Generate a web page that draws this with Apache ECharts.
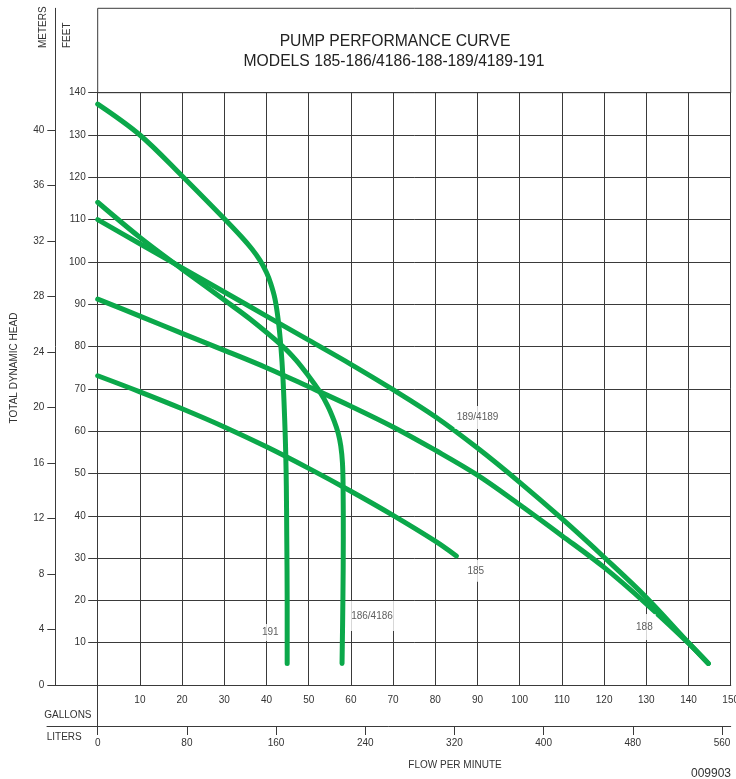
<!DOCTYPE html>
<html><head><meta charset="utf-8">
<script src="https://cdn.jsdelivr.net/npm/echarts@6/dist/echarts.min.js"></script>
<style>html,body{margin:0;padding:0;background:#fff}#c{width:736px;height:779px}</style>
</head><body><div id="c"></div>
<script>
// ---- data (gallons per minute, feet of head) ----
const gallonTicks = [10,20,30,40,50,60,70,80,90,100,110,120,130,140,150];
const feetTicks = [10,20,30,40,50,60,70,80,90,100,110,120,130,140];
const meterTicks = [0,4,8,12,16,20,24,28,32,36,40];
const literTicks = [0,80,160,240,320,400,480,560];

const curve191 = [[0,137.3],[10,130],[20,120.3],[30,110.2],[34,106],[36.5,103.1],[38.5,100.3],[40,97.5],[41,94.9],[42,91.3],[42.8,86.1],[43.4,80.1],[43.9,72.6],[44.3,63],[44.55,55],[44.7,47],[44.8,35],[44.9,20],[44.9,5.1]];
const curve186 = [[0,114.1],[10,105.8],[20,98.3],[30,91],[36.1,86.5],[43.9,80],[47,76.8],[50,73],[52.5,69.5],[54.5,66],[56,62.5],[57,59.5],[57.6,56.5],[58,52.5],[58.15,47],[58.2,35],[58.1,20],[57.9,5.1]];
const curve189 = [[0,110],[10,104.3],[20,98.6],[30,92.9],[40,87.2],[50,81.5],[60,75.8],[70,69.8],[80,63.4],[90,56],[100,47.9],[110,39.3],[120,30.2],[130,20.7],[140,10],[144.7,5.1]];
const curve188 = [[0,91.2],[10,87.2],[20,83.1],[30,79.1],[40,75],[50,70.5],[60,65.9],[70,61],[80,55.5],[90,49.6],[100,42.6],[110,35.3],[120,27.8],[130,19.2],[140,9.9],[144.7,5.1]];
const curve185 = [[0,73.1],[10,69.3],[20,65.3],[30,61],[40,56.3],[50,51.2],[60,45.8],[70,40.1],[80,34],[85,30.5]];
const curveLabels = [[40.9,12.4,'191'],[65,16.3,'186/4186'],[90,63.2,'189/4189'],[89.6,27,'185'],[129.55,13.7,'188']];

// ---- chart ----
const ink = '#333', gridC = '#3a3a3a', green = '#0ba84a';
const font = 'Liberation Sans, Arial, sans-serif';
const L = 97.7, R = 5.3, T = 92.7, B = 94;
const labelPad = {'191':[3,2,4,2],'186/4186':[7,2,13,2],'189/4189':[5,2,8,2],'185':[7,3,5,3],'188':[6,3,10,3]};

const chart = echarts.init(document.getElementById('c'));
const lineSeries = (data) => ({
  type:'line', xAxisIndex:0, yAxisIndex:0, data, symbol:'none', showSymbol:false,
  smooth:0.35, lineStyle:{color:green, width:5, cap:'round', join:'round'}, silent:true, animation:false
});
const hiddenAxis = (gi) => ({gridIndex:gi, type:'value', show:false, min:0, max:1});
const frameAxis = (gi) => ({gridIndex:gi, type:'value', min:0, max:1, axisLine:{show:true, lineStyle:{color:gridC,width:1}}, axisTick:{show:false}, axisLabel:{show:false}, splitLine:{show:false}});
const G = (o) => Object.assign({outerBoundsMode:'none', containLabel:false}, o);

chart.setOption({
  animation:false,
  textStyle:{fontFamily:font},
  grid:[
    G({left:L, right:R, top:T, bottom:B}),
    G({left:L, right:R, top:8.3, height:T-8.3, show:true, borderColor:gridC, borderWidth:1, backgroundColor:'transparent'}),
    G({left:55.3, right:R, top:8.3, bottom:B}),
    G({left:47, right:R, top:700, bottom:53}),
    G({left:L, width:10, top:779-B, bottom:46})
  ],
  xAxis:[
    {gridIndex:0, type:'value', min:0, max:150, interval:10,
     axisLine:{show:true, lineStyle:{color:gridC,width:1}}, axisTick:{show:false},
     axisLabel:{formatter:v=>v===0?'':String(v), margin:10, fontSize:10, color:ink, showMaxLabel:true},
     splitLine:{show:true, lineStyle:{color:gridC,width:1}}},
    {gridIndex:0, type:'value', min:0, max:150*3.78541, position:'bottom', offset:41,
     axisLine:{show:false}, axisTick:{show:true, customValues:literTicks, length:9, lineStyle:{color:gridC,width:1}},
     axisLabel:{customValues:literTicks, margin:12, fontSize:10, color:ink}, splitLine:{show:false}},
    hiddenAxis(1),
    frameAxis(2),
    frameAxis(3),
    hiddenAxis(4)
  ],
  yAxis:[
    {gridIndex:0, type:'value', min:0, max:140, interval:10,
     axisLine:{show:true, lineStyle:{color:gridC,width:1}},
     axisTick:{show:true, length:9.5, lineStyle:{color:gridC,width:1}},
     axisLabel:{formatter:v=>v===0?'':String(v), margin:12, fontSize:10, color:ink},
     splitLine:{show:true, lineStyle:{color:gridC,width:1}}},
    hiddenAxis(1),
    {gridIndex:2, type:'value', min:0, max:160/3.28084,
     axisLine:{show:true, lineStyle:{color:gridC,width:1}},
     axisTick:{show:true, customValues:meterTicks, length:8, lineStyle:{color:gridC,width:1}},
     axisLabel:{customValues:meterTicks, margin:11, fontSize:10, color:ink}, splitLine:{show:false}},
    hiddenAxis(3),
    {gridIndex:4, type:'value', min:0, max:1, axisLine:{show:true, lineStyle:{color:gridC,width:1}},
     axisTick:{show:false}, axisLabel:{show:false}, splitLine:{show:false}}
  ],
  series:[
    lineSeries(curve191), lineSeries(curve186), lineSeries(curve189), lineSeries(curve188), lineSeries(curve185),
    {type:'scatter', xAxisIndex:0, yAxisIndex:0, symbolSize:1, itemStyle:{color:'rgba(0,0,0,0)'}, silent:true, z:3,
     data:curveLabels.map(d=>({value:[d[0],d[1]], name:d[2], label:{padding:labelPad[d[2]]}})),
     label:{show:true, position:'inside', formatter:p=>p.name, fontSize:10, color:ink, backgroundColor:'#fff', fontFamily:font}}
  ],
  graphic:[
    {type:'text', x:395, y:41.7, style:{text:'PUMP PERFORMANCE CURVE', font:'15.7px '+font, fill:'#222', textAlign:'center', textVerticalAlign:'middle', align:'center', verticalAlign:'middle'}},
    {type:'text', x:394, y:61.7, style:{text:'MODELS 185-186/4186-188-189/4189-191', font:'15.7px '+font, fill:'#222', textAlign:'center', textVerticalAlign:'middle', align:'center', verticalAlign:'middle'}},
    {type:'text', x:43, y:48, rotation:Math.PI/2, style:{text:'METERS', font:'10px '+font, fill:ink, textAlign:'left', textVerticalAlign:'middle', align:'left', verticalAlign:'middle'}},
    {type:'text', x:67, y:48, rotation:Math.PI/2, style:{text:'FEET', font:'10px '+font, fill:ink, textAlign:'left', textVerticalAlign:'middle', align:'left', verticalAlign:'middle'}},
    {type:'text', x:14, y:368, rotation:Math.PI/2, style:{text:'TOTAL DYNAMIC HEAD', font:'10px '+font, fill:ink, textAlign:'center', textVerticalAlign:'middle', align:'center', verticalAlign:'middle'}},
    {type:'text', x:44.3, y:715, style:{text:'GALLONS', font:'10px '+font, fill:ink, textAlign:'left', textVerticalAlign:'middle', align:'left', verticalAlign:'middle'}},
    {type:'text', x:46.7, y:737, style:{text:'LITERS', font:'10px '+font, fill:ink, textAlign:'left', textVerticalAlign:'middle', align:'left', verticalAlign:'middle'}},
    {type:'text', x:455, y:765, style:{text:'FLOW PER MINUTE', font:'10px '+font, fill:ink, textAlign:'center', textVerticalAlign:'middle', align:'center', verticalAlign:'middle'}},
    {type:'text', x:731, y:774, style:{text:'009903', font:'12px '+font, fill:ink, textAlign:'right', textVerticalAlign:'middle', align:'right', verticalAlign:'middle'}}
  ]
});
</script>
</body></html>
